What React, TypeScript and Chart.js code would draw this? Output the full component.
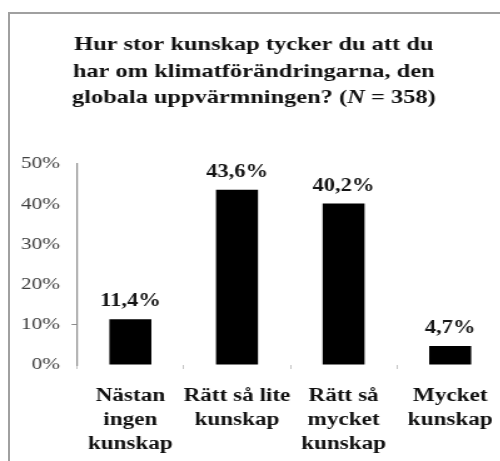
import React, { useEffect, useRef } from 'react';
import { Chart, registerables } from 'chart.js';

Chart.register(...registerables);

// ---- data ----
const categories: string[][] = [
  ['Nästan', 'ingen', 'kunskap'],
  ['Rätt så lite', 'kunskap'],
  ['Rätt så', 'mycket', 'kunskap'],
  ['Mycket', 'kunskap'],
];
const values: number[] = [11.4, 43.6, 40.2, 4.7];
const yTicks: number[] = [0, 10, 20, 30, 40, 50];
// title segments: [text, italic]
const titleLines: [string, boolean][][] = [
  [['Hur stor kunskap tycker du att du', false]],
  [['har om klimatförändringarna, den', false]],
  [['globala uppvärmningen? (', false], ['N', true], [' = 358)', false]],
];

const FONT = '"Liberation Serif", "Times New Roman", serif';
const STRETCH = 1.25;
const CANVAS_W = 410;
const CANVAS_H = 461;

export default function App() {
  const ref = useRef<HTMLCanvasElement>(null);

  useEffect(() => {
    const canvas = ref.current;
    if (!canvas) return;

    const titlePlugin = {
      id: 'mixedTitle',
      afterDraw(chart: any) {
        const ctx = chart.ctx as CanvasRenderingContext2D;
        ctx.save();
        ctx.fillStyle = '#111111';
        ctx.textBaseline = 'alphabetic';
        ctx.textAlign = 'left';
        const cx = 202.8;
        titleLines.forEach((segs, i) => {
          const y = 50 + i * 26.5;
          const fontFor = (it: boolean) => `${it ? 'italic ' : ''}bold 19.5px ${FONT}`;
          let total = 0;
          segs.forEach(([t, it]) => {
            ctx.font = fontFor(it);
            total += ctx.measureText(t).width;
          });
          let x = cx - total / 2;
          segs.forEach(([t, it]) => {
            ctx.font = fontFor(it);
            ctx.fillText(t, x, y);
            x += ctx.measureText(t).width;
          });
        });
        ctx.restore();
      },
    };

    const labelPlugin = {
      id: 'barLabels',
      afterDatasetsDraw(chart: any) {
        const ctx = chart.ctx as CanvasRenderingContext2D;
        const meta = chart.getDatasetMeta(0);
        ctx.save();
        ctx.fillStyle = '#151515';
        ctx.font = `bold 18px ${FONT}`;
        ctx.textAlign = 'center';
        ctx.textBaseline = 'alphabetic';
        meta.data.forEach((bar: any, i: number) => {
          const txt = values[i].toFixed(1).replace('.', ',') + '%';
          ctx.fillText(txt, bar.x, bar.y - 12.7);
        });
        ctx.restore();
      },
    };

    const chart = new Chart(canvas, {
      type: 'bar',
      data: {
        labels: categories as any,
        datasets: [
          {
            data: values,
            backgroundColor: '#000000',
            borderWidth: 0,
            barPercentage: 0.394,
            categoryPercentage: 1,
          },
        ],
      },
      options: {
        animation: false,
        responsive: false,
        devicePixelRatio: 1,
        layout: { padding: { left: 3.2, right: 7.6, top: 164, bottom: 0 } },
        plugins: {
          legend: { display: false },
          title: { display: false },
          tooltip: { enabled: false },
        },
        scales: {
          x: {
            afterFit: (s: any) => {
              s.height = 96;
            },
            grid: {
              display: true,
              drawOnChartArea: false,
              drawTicks: true,
              tickLength: 4,
              color: '#c4c4c4',
              lineWidth: 1,
              offset: true,
            },
            border: { display: false },
            ticks: {
              color: '#111111',
              font: { family: FONT, size: 18.5, weight: 'bold', lineHeight: 24 / 18.5 },
              padding: 15,
              maxRotation: 0,
              minRotation: 0,
              autoSkip: false,
            },
          },
          y: {
            min: 0,
            max: 50,
            afterBuildTicks: (s: any) => {
              s.ticks = yTicks.map((v) => ({ value: v }));
            },
            afterFit: (s: any) => {
              s.width = 58.4;
            },
            grid: {
              drawOnChartArea: false,
              drawTicks: true,
              tickLength: 4.4,
              color: (c: any) => (c.tick && c.tick.value === 10 ? '#8c8c8c' : 'rgba(0,0,0,0)'),
            },
            border: { display: true, color: '#8c8c8c', width: 1.2 },
            ticks: {
              color: '#404040',
              font: { family: FONT, size: 17 },
              padding: 9.2,
              callback: (v: any) => v + '%',
            },
          },
        },
      },
      plugins: [titlePlugin, labelPlugin],
    });

    return () => chart.destroy();
  }, []);

  return (
    <div
      style={{
        position: 'fixed',
        left: 0,
        top: 0,
        width: 500,
        height: 461,
        overflow: 'hidden',
        background: '#ffffff',
      }}
    >
      <div
        style={{
          position: 'absolute',
          left: 8,
          top: 12,
          width: 600,
          height: 600,
          borderLeft: '2px solid #a0a0a0',
          borderTop: '2px solid #a0a0a0',
        }}
      />
      <canvas
        ref={ref}
        width={CANVAS_W}
        height={CANVAS_H}
        style={{
          position: 'absolute',
          left: 0,
          top: 0,
          width: CANVAS_W * STRETCH,
          height: CANVAS_H,
        }}
      />
    </div>
  );
}
